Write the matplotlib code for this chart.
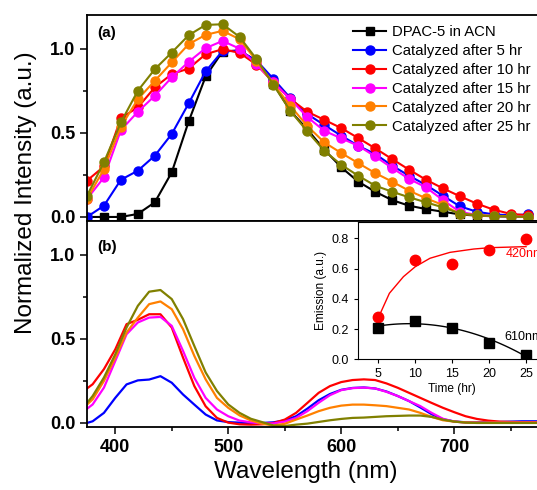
import matplotlib
matplotlib.use("Agg")
import matplotlib.pyplot as plt
import numpy as np
from matplotlib.ticker import MultipleLocator

plt.rcParams['font.family'] = ['Liberation Sans', 'DejaVu Sans']

# ---- panel (a): emission spectra with markers every 15 nm ----
wl_a = [375, 390, 405, 420, 435, 450, 465, 480, 495, 510, 525, 540, 555, 570,
        585, 600, 615, 630, 645, 660, 675, 690, 705, 720, 735, 750, 765]
dpac = [0.0, 0.0, 0.0, 0.018, 0.087, 0.265, 0.568, 0.835, 0.983, 0.99, 0.925, 0.79, 0.63, 0.52,
        0.40, 0.295, 0.21, 0.15, 0.10, 0.067, 0.047, 0.031, 0.015, 0.008, 0.004, 0.002, 0.0]
cat5_a = [0.0, 0.067, 0.221, 0.275, 0.364, 0.493, 0.675, 0.865, 0.987, 0.985, 0.93, 0.82, 0.706, 0.611,
          0.546, 0.483, 0.423, 0.374, 0.305, 0.245, 0.19, 0.126, 0.063, 0.031, 0.015, 0.01, 0.015]
cat10_a = [0.216, 0.30, 0.588, 0.651, 0.77, 0.849, 0.882, 0.967, 0.997, 0.975, 0.905, 0.80, 0.70, 0.625,
           0.577, 0.528, 0.469, 0.408, 0.344, 0.281, 0.221, 0.17, 0.123, 0.079, 0.043, 0.018, 0.01]
cat15_a = [0.107, 0.235, 0.516, 0.625, 0.72, 0.829, 0.922, 1.003, 1.046, 1.0, 0.908, 0.80, 0.70, 0.593,
           0.512, 0.467, 0.423, 0.36, 0.291, 0.226, 0.176, 0.10, 0.03, 0.012, 0.005, 0.005, 0.0]
cat20_a = [0.107, 0.285, 0.536, 0.70, 0.809, 0.918, 1.027, 1.082, 1.106, 1.056, 0.928, 0.79, 0.66, 0.54,
           0.443, 0.38, 0.32, 0.261, 0.21, 0.156, 0.111, 0.071, 0.018, 0.012, 0.005, 0.005, 0.0]
cat25_a = [0.126, 0.325, 0.562, 0.75, 0.878, 0.977, 1.08, 1.141, 1.145, 1.07, 0.938, 0.785, 0.63, 0.508,
           0.393, 0.31, 0.245, 0.186, 0.15, 0.117, 0.087, 0.057, 0.02, 0.01, 0.005, 0.003, 0.0]

# ---- panel (b): spectra ----
wl_b = [375, 380, 390, 400, 410, 420, 430, 440, 450, 460, 470, 480, 490, 500, 510, 520, 530, 540,
        550, 560, 570, 580, 590, 600, 610, 620, 630, 640, 650, 660, 670, 680, 690, 700, 710, 720,
        730, 740, 750, 760, 770, 775]
cat5_b = [0.0, 0.01, 0.06, 0.149, 0.229, 0.253, 0.258, 0.278, 0.239, 0.169, 0.109, 0.05, 0.015, 0.005,
          0.002, -0.003, 0.0, 0.004, 0.015, 0.04, 0.085, 0.135, 0.172, 0.197, 0.208, 0.211, 0.205,
          0.187, 0.16, 0.13, 0.092, 0.052, 0.022, 0.009, 0.004, 0.004, 0.005, 0.006, 0.008, 0.01, 0.01, 0.01]
cat10_b = [0.205, 0.23, 0.32, 0.437, 0.587, 0.613, 0.646, 0.646, 0.567, 0.388, 0.219, 0.099, 0.03, 0.002,
           -0.008, -0.01, -0.008, 0.0, 0.02, 0.06, 0.119, 0.179, 0.219, 0.243, 0.255, 0.259, 0.255,
           0.235, 0.209, 0.179, 0.149, 0.119, 0.09, 0.064, 0.04, 0.024, 0.014, 0.008, 0.006, 0.005, 0.005, 0.005]
cat15_b = [0.084, 0.11, 0.21, 0.368, 0.527, 0.597, 0.626, 0.63, 0.577, 0.428, 0.268, 0.149, 0.08, 0.04,
           0.014, 0.004, -0.003, -0.003, 0.008, 0.03, 0.07, 0.12, 0.165, 0.195, 0.207, 0.21, 0.205,
           0.185, 0.16, 0.13, 0.10, 0.06, 0.025, 0.008, 0.003, 0.002, 0.002, 0.002, 0.002, 0.002, 0.002, 0.002]
cat20_b = [0.109, 0.14, 0.25, 0.388, 0.537, 0.626, 0.706, 0.722, 0.676, 0.557, 0.398, 0.259, 0.149, 0.09,
           0.045, 0.015, -0.005, -0.015, -0.005, 0.02, 0.044, 0.07, 0.09, 0.103, 0.109, 0.109, 0.105,
           0.1, 0.09, 0.08, 0.06, 0.036, 0.016, 0.008, 0.003, 0.002, 0.002, 0.002, 0.002, 0.002, 0.002, 0.002]
cat25_b = [0.119, 0.16, 0.27, 0.408, 0.567, 0.696, 0.78, 0.79, 0.736, 0.617, 0.457, 0.30, 0.19, 0.11,
           0.06, 0.025, 0.005, -0.015, -0.018, -0.01, -0.004, 0.006, 0.016, 0.024, 0.03, 0.032, 0.036,
           0.04, 0.042, 0.044, 0.044, 0.036, 0.02, 0.008, 0.002, 0.0, 0.0, 0.0, 0.0, 0.0, 0.0, 0.0]

# ---- inset: emission vs time ----
time_hr = [5, 10, 15, 20, 25]
em_420 = [0.28, 0.655, 0.63, 0.725, 0.795]
em_610 = [0.21, 0.255, 0.21, 0.11, 0.03]
# 420 nm fit curve
fit420_t = [5, 6.5, 8.4, 10, 12, 14.7, 17.9, 20.1, 25]
fit420_v = [0.275, 0.437, 0.547, 0.613, 0.669, 0.708, 0.730, 0.739, 0.746]

labels = ['DPAC-5 in ACN', 'Catalyzed after 5 hr', 'Catalyzed after 10 hr',
          'Catalyzed after 15 hr', 'Catalyzed after 20 hr', 'Catalyzed after 25 hr']
colors = ['black', '#0000FF', '#FF0000', '#FF00FF', '#FF8000', '#808000']

W, H = 537, 490
fig = plt.figure(figsize=(W / 100, H / 100), dpi=100)
ax1 = fig.add_axes([87 / W, (H - 221) / H, 452 / W, 206 / H])
ax2 = fig.add_axes([87 / W, (H - 427) / H, 452 / W, 206 / H])

series_a = [dpac, cat5_a, cat10_a, cat15_a, cat20_a, cat25_a]
for i, ys in enumerate(series_a):
    marker = 's' if i == 0 else 'o'
    ax1.plot(wl_a, ys, color=colors[i], marker=marker, markersize=6.5 if i else 5.5,
             lw=1.5, label=labels[i])

series_b = [cat5_b, cat10_b, cat15_b, cat20_b, cat25_b]
for i, ys in enumerate(series_b):
    ax2.plot(wl_b, ys, color=colors[i + 1], lw=1.6)

for ax in (ax1, ax2):
    ax.set_xlim(375, 775)
    ax.set_ylim(-0.024, 1.2)
    ax.xaxis.set_major_locator(MultipleLocator(100))
    ax.xaxis.set_minor_locator(MultipleLocator(50))
    ax.yaxis.set_major_locator(MultipleLocator(0.5))
    ax.yaxis.set_minor_locator(MultipleLocator(0.25))
    ax.tick_params(which='major', direction='out', length=5, width=1.1, labelsize=13)
    ax.tick_params(which='minor', direction='out', length=3, width=1.1)
    for s in ax.spines.values():
        s.set_linewidth(1.3)
    for lab in ax.get_yticklabels() + ax.get_xticklabels():
        lab.set_fontweight('bold')

ax1.tick_params(axis='x', labelbottom=False)
ax2.set_xticks([400, 500, 600, 700])

ax1.text(97 / W, 1 - 33 / H, '(a)', transform=fig.transFigure, fontsize=11, fontweight='bold', va='center')
ax2.text(97 / W, 1 - 247 / H, '(b)', transform=fig.transFigure, fontsize=11, fontweight='bold', va='center')

ax1.legend(loc='upper left', bbox_to_anchor=(353 / W, 1 - 25 / H), bbox_transform=fig.transFigure,
           frameon=False, fontsize=10.7, handlelength=2.25, handletextpad=0.35,
           labelspacing=0.33, borderaxespad=0, borderpad=0)

fig.text(26 / W, 1 - 193 / H, 'Normalized Intensity (a.u.)', rotation=90, fontsize=17.5,
         ha='center', va='center')
fig.text(306 / W, 1 - 472 / H, 'Wavelength (nm)', fontsize=17.5, ha='center', va='center')

# inset
ins = fig.add_axes([358 / W, (H - 359.3) / H, (546 - 358) / W, (359.3 - 222) / H])
ins.plot(fit420_t, fit420_v, color='#FF0000', lw=1.0)
coef = np.polyfit(time_hr, em_610, 2)
tt = np.linspace(5, 25, 60)
ins.plot(tt, np.polyval(coef, tt), color='black', lw=1.0)
ins.plot(time_hr, em_420, 'o', color='#FF0000', markersize=7.5, ls='none')
ins.plot(time_hr, em_610, 's', color='black', markersize=6.5, ls='none')
ins.set_xlim(2.25, 27.7)
ins.set_ylim(0, 0.909)
ins.xaxis.set_major_locator(MultipleLocator(5))
ins.yaxis.set_major_locator(MultipleLocator(0.2))
ins.tick_params(labelsize=9, length=3, width=0.8)
ins.set_xlabel('Time (hr)', fontsize=8.6, labelpad=2)
ins.set_ylabel('Emission (a.u.)', fontsize=8.6, labelpad=3)
ins.text(22.2, 0.70, '420nm', color='#FF0000', fontsize=9, va='center')
ins.text(22.1, 0.15, '610nm', color='black', fontsize=9, va='center')
for s in ins.spines.values():
    s.set_linewidth(0.8)

fig.savefig('out.png', dpi=100)
